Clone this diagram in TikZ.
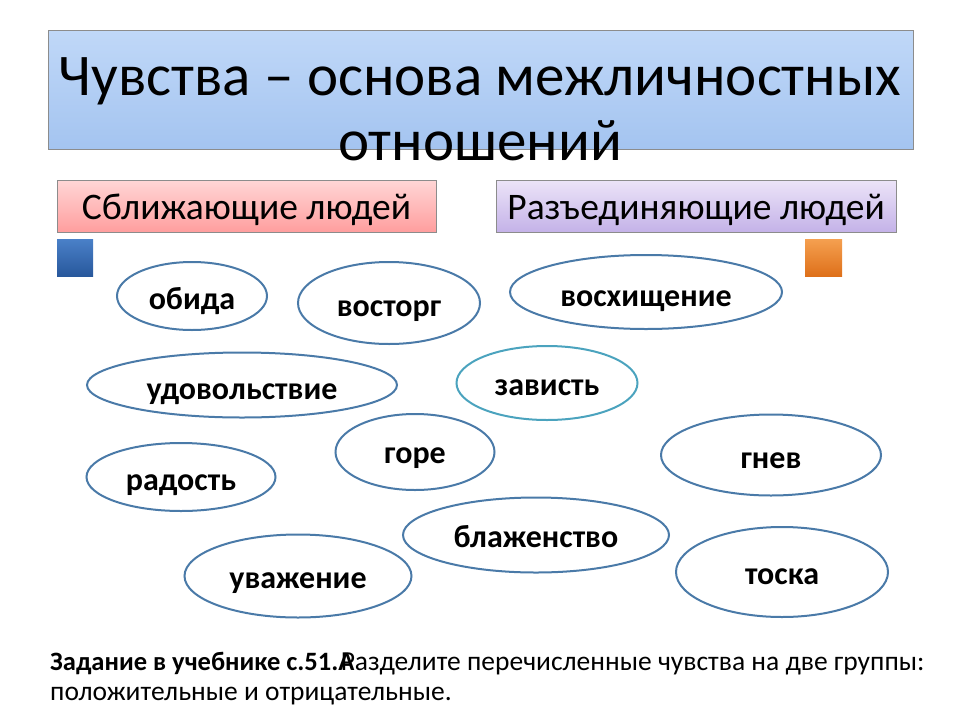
\documentclass[tikz,border=0pt]{standalone}
\usepackage{fontspec}
\setmainfont{Carlito}
\usetikzlibrary{shapes.geometric}
\definecolor{ellline}{HTML}{4A7AA8}
\definecolor{tealline}{HTML}{4BA3BE}
\tikzset{
  emo/.style={ellipse, draw=ellline, line width=2pt, inner sep=0pt},
  emotxt/.style={anchor=base, inner sep=0pt, font=\fontsize{32}{36}\selectfont\bfseries},
  head/.style={anchor=base, inner sep=0pt, font=\fontsize{37.5}{42}\selectfont},
  ttl/.style={anchor=base, inner sep=0pt, font=\fontsize{59}{66}\selectfont},
  task/.style={anchor=base west, font=\fontsize{27.5}{32}\selectfont, inner sep=0pt}
}
\begin{document}
\begin{tikzpicture}[x=1pt,y=-1pt]
\useasboundingbox (0,0) rectangle (960,720);
% title box
\node[draw=black!45, line width=0.8pt, top color={rgb,255:red,192;green,216;blue,248}, bottom color={rgb,255:red,164;green,196;blue,240}, minimum width=865pt, minimum height=119pt, inner sep=0pt] (tbox) at (480.5,89.5) {};
\node[ttl] (t1) at (480,95) {Чувства – основа межличностных};
\node[ttl] (t2) at (480,160) {отношений};
% headers
\node[draw=black!45, line width=0.8pt, top color={rgb,255:red,255;green,214;blue,214}, bottom color={rgb,255:red,255;green,158;blue,158}, minimum width=379pt, minimum height=52pt, inner sep=0pt] (hl) at (246.5,206) {};
\node[head] (hlt) at (246.5,219) {Сближающие людей};
\node[draw=black!45, line width=0.8pt, top color={rgb,255:red,236;green,228;blue,248}, bottom color={rgb,255:red,196;green,178;blue,232}, minimum width=400pt, minimum height=52pt, inner sep=0pt] (hr) at (696,206) {};
\node[head] (hrt) at (696,219) {Разъединяющие людей};
% squares
\node[top color={rgb,255:red,74;green,128;blue,200}, bottom color={rgb,255:red,40;green,88;blue,156}, minimum width=36pt, minimum height=37pt, inner sep=0pt] (sqb) at (75,257.5) {};
\node[top color={rgb,255:red,245;green,160;blue,80}, bottom color={rgb,255:red,222;green,112;blue,26}, minimum width=37pt, minimum height=37pt, inner sep=0pt] (sqo) at (823.5,257.5) {};
% ellipses
\node[emo, minimum width=150pt, minimum height=68pt] (e1) at (192,296) {};
\node[emo, minimum width=182pt, minimum height=82pt] (e2) at (389,303) {};
\node[emo, minimum width=272pt, minimum height=74pt] (e3) at (646,292) {};
\node[emo, minimum width=310pt, minimum height=65pt] (e4) at (242,385) {};
\node[emo, draw=tealline, minimum width=181pt, minimum height=74pt] (e5) at (547,383) {};
\node[emo, minimum width=159pt, minimum height=76pt] (e6) at (415,452) {};
\node[emo, minimum width=189pt, minimum height=68pt] (e7) at (181,477) {};
\node[emo, minimum width=220pt, minimum height=81pt] (e8) at (771,455) {};
\node[emo, minimum width=266pt, minimum height=75pt] (e9) at (536,535) {};
\node[emo, minimum width=227pt, minimum height=83pt] (e10) at (298,576) {};
\node[emo, minimum width=212pt, minimum height=90pt] (e11) at (782,572) {};
\node[emotxt] (l1) at (192,309) {обида};
\node[emotxt] (l2) at (389,316) {восторг};
\node[emotxt] (l3) at (646,306) {восхищение};
\node[emotxt] (l4) at (242,399) {удовольствие};
\node[emotxt] (l5) at (547,395) {зависть};
\node[emotxt] (l6) at (415,463) {горе};
\node[emotxt] (l7) at (181,490) {радость};
\node[emotxt] (l8) at (771,468) {гнев};
\node[emotxt] (l9) at (536,547) {блаженство};
\node[emotxt] (l10) at (298,588) {уважение};
\node[emotxt] (l11) at (782,584) {тоска};
% task
\node[task] (k1) at (50,670) {{\fontsize{26.5}{30}\selectfont\bfseries Задание в учебнике с.51.А}\hspace{-0.5em}Разделите перечисленные чувства на две группы:};
\node[task] (k2) at (50,700) {положительные и отрицательные.};
\end{tikzpicture}
\end{document}
